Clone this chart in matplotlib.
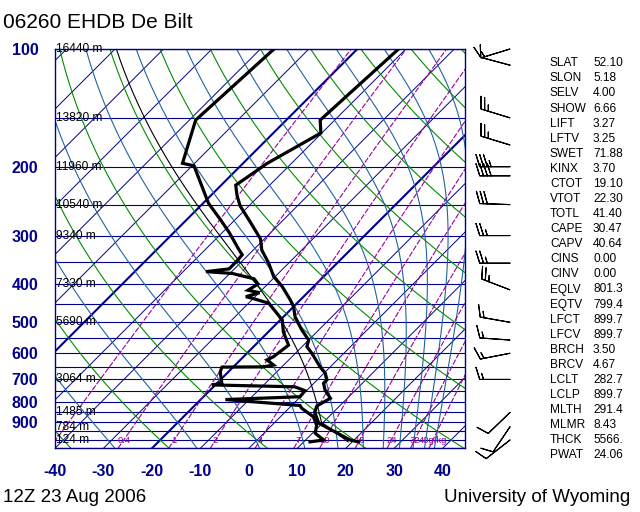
import numpy as np
import matplotlib
matplotlib.use('Agg')
import matplotlib.pyplot as plt
from matplotlib.ticker import NullLocator

plt.rcParams['font.family'] = ['Liberation Sans', 'DejaVu Sans']

# ---------------- data ----------------
station_title = "06260 EHDB De Bilt"
time_label = "12Z 23 Aug 2006"
credit = "University of Wyoming"

# temperature profile (hPa, degC)
temp_p = [1011, 1000, 905, 848, 818, 800, 782, 745, 716, 702, 675, 650, 600, 577,
          555, 523, 484, 456, 438, 405, 382, 353, 327, 306, 277, 252, 237, 223,
          196, 164, 152, 100]
temp_t = [21.3, 19.2, 9.2, 6.1, 5.3, 5.9, 6.5, 3.7, 2.0, 2.0, 0.3, -2.1, -6.6, -9.0,
          -10.0, -13.5, -17.6, -20.0, -22.1, -26.5, -30.3, -34.1, -38.2, -40.8, -46.4,
          -51.8, -54.6, -57.0, -55.0, -50.2, -53.0, -51.5]

# dew point profile (hPa, degC)
dwpt_p = [1011, 1000, 961, 916, 872, 830, 816, 788, 775, 748, 731, 723, 716, 669,
          651, 650, 643, 624, 612, 572, 529, 493, 447, 435, 430, 420, 414, 399, 387,
          375, 371, 365, 349, 336, 325, 294, 272, 248, 199, 196, 152, 100]
dwpt_t = [11.3, 13.7, 10.6, 9.2, 6.8, 2.7, 1.7, -14.9, -0.1, -0.3, -3.2, -20.7, -19.0,
          -21.7, -22.3, -13.8, -12.1, -14.5, -13.8, -13.1, -16.9, -19.6, -25.8, -29.9,
          -31.9, -29.9, -32.8, -32.0, -33.9, -39.5, -45.3, -41.1, -41.1, -41.3, -43.2,
          -48.7, -53.3, -58.9, -69.6, -72.5, -78.7, -77.2]

# geopotential height labels
height_p = [100, 150, 200, 250, 300, 400, 500, 700, 850, 925, 1000]
height_m = ["16440", "13820", "11960", "10540", "9340", "7330", "5690", "3064",
            "1485", "784", "124"]

# winds (hPa, direction deg, speed kt)
wind_p = [100, 110, 150, 176, 200, 211, 250, 300, 353, 413, 500, 555, 600, 700, 850, 925, 1000]
wind_dir = [253, 285, 287, 287, 270, 270, 272, 270, 270, 291, 280, 274, 259, 270, 226, 214, 232]
wind_spd = [15, 10, 25, 25, 35, 40, 30, 25, 25, 25, 15, 15, 15, 15, 10, 10, 10]

# sounding indices
index_names = ["SLAT", "SLON", "SELV", "SHOW", "LIFT", "LFTV", "SWET", "KINX", "CTOT",
               "VTOT", "TOTL", "CAPE", "CAPV", "CINS", "CINV", "EQLV", "EQTV", "LFCT",
               "LFCV", "BRCH", "BRCV", "LCLT", "LCLP", "MLTH", "MLMR", "THCK", "PWAT"]
index_values = ["52.10", "5.18", "4.00", "6.66", "3.27", "3.25", "71.88", "3.70", "19.10",
                "22.30", "41.40", "30.47", "40.64", "0.00", "0.00", "801.3", "799.4",
                "899.7", "899.7", "3.50", "4.67", "282.7", "899.7", "291.4", "8.43",
                "5566.", "24.06"]

# parcel (mixed layer)
parcel_theta = 291.4   # K
lcl_p = 899.7          # hPa
lcl_t = 282.7          # K

mixing_ratios = [0.1, 0.4, 1, 2, 4, 7, 10, 16, 24, 32, 40]
mixing_labels = ["", "0.4", "1", "2", "4", "7", "10", "16", "24", "32", "40g/kg"]

pressure_ticks = [100, 200, 300, 400, 500, 600, 700, 800, 900]
temp_ticks = [-40, -30, -20, -10, 0, 10, 20, 30, 40]
isobars = list(range(100, 1051, 50))

# ---------------- style / geometry ----------------
NAVY = '#00008b'
GREEN = '#008c00'
STEEL = '#1f64a0'
PURPLE = '#990099'
PBOT, PTOP = 1050.0, 100.0
XMIN, XMAX = -40.0, 44.6
W, H = 640, 512
AX_L, AX_R, AX_T, AX_B = 55, 465, 49, 448.3


def fx(px):
    return px / W


def fy(py):
    return 1 - py / H


fig = plt.figure(figsize=(6.4, 5.12), dpi=100)
fig.patch.set_facecolor('white')
ax = fig.add_axes([fx(AX_L), fy(AX_B), (AX_R - AX_L) / W, (AX_B - AX_T) / H])
ax.set_yscale('log')
ax.set_ylim(PBOT, PTOP)
ax.set_xlim(XMIN, XMAX)

K = ((AX_B - AX_T) / np.log10(PBOT / PTOP)) / ((AX_R - AX_L) / (XMAX - XMIN))


def skx(t, p):
    return np.asarray(t, float) + K * np.log10(PBOT / np.asarray(p, float))


pg = np.geomspace(PBOT, PTOP, 300)


def es(tc):
    return 6.112 * np.exp(17.67 * tc / (tc + 243.5))


def thetae_sat(tc, p):
    e = es(tc)
    r = 622.0 * e / (p - e)
    tk = tc + 273.15
    return tk * (1000.0 / p) ** (0.2854 * (1 - 0.00028 * r)) * \
        np.exp((3.376 / tk - 0.00254) * r * (1 + 0.00081 * r))


def moist_t(the, p):
    lo = np.full_like(p, -160.0)
    hi = np.full_like(p, 40.0)
    for _ in range(60):
        mid = 0.5 * (lo + hi)
        f = thetae_sat(mid, p)
        big = f > the
        hi = np.where(big, mid, hi)
        lo = np.where(big, lo, mid)
    return 0.5 * (lo + hi)


# isobars
ax.hlines(isobars, XMIN, XMAX, color=NAVY, lw=0.8, zorder=1)

# isotherms
for t in range(-130, 50, 10):
    lw = 1.5 if t in (-60, -20) else 0.7
    ax.plot(skx(np.full_like(pg, t), pg), pg, color=NAVY, lw=lw, zorder=1)

# dry adiabats
for th in np.arange(193.15, 460, 20):
    tt = th * (pg / 1000.0) ** 0.286 - 273.15
    ax.plot(skx(tt, pg), pg, color=GREEN, lw=0.8, zorder=1)

# moist adiabats
for the in np.arange(223.15, 450, 20):
    tt = moist_t(the, pg)
    ax.plot(skx(tt, pg), pg, color=STEEL, lw=0.8, zorder=1)

# mixing ratio lines
for r, lab in zip(mixing_ratios, mixing_labels):
    e = r * pg / (622.0 + r)
    le = np.log(e / 6.112)
    td = 243.5 * le / (17.67 - le)
    ax.plot(skx(td, pg), pg, color=PURPLE, lw=0.8, dashes=(5, 1.5), zorder=1)
    if lab:
        e0 = r * 1000.0 / (622.0 + r)
        l0 = np.log(e0 / 6.112)
        t0 = 243.5 * l0 / (17.67 - l0)
        ax.text(skx(t0, 1000.0), 1000.0, lab, color=PURPLE, fontsize=6.8,
                ha='center', va='center', zorder=3)

# height labels
for p, h in zip(height_p, height_m):
    ax.text(0.003, p, h + " m", transform=ax.get_yaxis_transform(), fontsize=8.6,
            ha='left', va='center', color='black', zorder=3)

# parcel path
pp = np.geomspace(temp_p[0], PTOP, 300)
dry = parcel_theta * (pp / 1000.0) ** 0.286 - 273.15
the_p = thetae_sat(lcl_t - 273.15, lcl_p)
wet = moist_t(the_p, pp)
par = np.where(pp >= lcl_p, dry, wet)
ax.plot(skx(par, pp), pp, color='black', lw=0.8, zorder=4)

# sounding
ax.plot(skx(temp_t, temp_p), temp_p, color='black', lw=2.3, zorder=5,
        solid_joinstyle='miter')
ax.plot(skx(dwpt_t, dwpt_p), dwpt_p, color='black', lw=2.3, zorder=5,
        solid_joinstyle='miter')

# axes styling
for s in ax.spines.values():
    s.set_color(NAVY)
    s.set_linewidth(1.0)
ax.yaxis.set_minor_locator(NullLocator())
ax.set_yticks(pressure_ticks)
ax.set_yticklabels([str(v) for v in pressure_ticks])
ax.set_xticks(temp_ticks)
ax.set_xticklabels([str(v) for v in temp_ticks])
ax.tick_params(axis='y', length=0, pad=12, labelsize=11.5, labelcolor=NAVY)
ax.tick_params(axis='x', length=0, pad=11, labelsize=11.5, labelcolor=NAVY)
for lbl in ax.get_yticklabels() + ax.get_xticklabels():
    lbl.set_fontweight('bold')

# wind barbs
bax = fig.add_axes([fx(470), fy(AX_B), 60 / W, (AX_B - AX_T) / H])
bax.set_yscale('log')
bax.set_ylim(PBOT, PTOP)
bax.set_xlim(0, 60)
bax.axis('off')
rad = np.deg2rad(wind_dir)
u = -np.array(wind_spd) * np.sin(rad)
v = -np.array(wind_spd) * np.cos(rad)
bax.barbs(np.full(len(wind_p), 40.0), wind_p, u, v, length=6.6, lw=0.8,
          color='black', clip_on=False)

# indices text
for i, (n, val) in enumerate(zip(index_names, index_values)):
    y = 63.3 + i * 15.08
    fig.text(fx(550), fy(y), n, fontsize=8.6, ha='left', va='center')
    fig.text(fx(593), fy(y), val, fontsize=8.6, ha='left', va='center')

fig.text(fx(3), fy(22), station_title, fontsize=15, ha='left', va='center')
fig.text(fx(3), fy(497), time_label, fontsize=13.5, ha='left', va='center')
fig.text(fx(630), fy(497), credit, fontsize=13.5, ha='right', va='center')

fig.savefig('out.png', dpi=100, facecolor='white')
